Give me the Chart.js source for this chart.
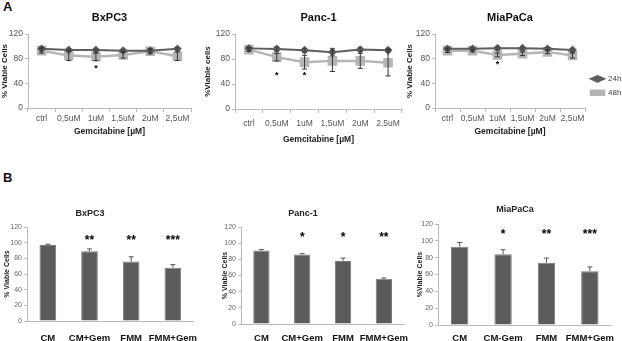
<!DOCTYPE html>
<html>
<head>
<meta charset="utf-8">
<script src="https://cdn.jsdelivr.net/npm/chart.js@4/dist/chart.umd.min.js"></script>
<style>
body { margin: 0; background: #fff; width: 622px; height: 341px; overflow: hidden; position: relative; font-family: "Liberation Sans", Arial, sans-serif; }
canvas { position: absolute; }
.tag { position: absolute; font-weight: bold; font-size: 13px; color: #111; }
</style>
</head>
<body>
<div class="tag" style="left:3px;top:-1px">A</div>
<div class="tag" style="left:3px;top:170px">B</div>
<canvas id="a1" width="200" height="140" style="left:0;top:0"></canvas>
<canvas id="a2" width="212" height="150" style="left:200px;top:0"></canvas>
<canvas id="a3" width="217" height="140" style="left:405px;top:0"></canvas>
<canvas id="b1" width="214" height="141" style="left:-17px;top:200px"></canvas>
<canvas id="b2" width="210" height="141" style="left:198px;top:200px"></canvas>
<canvas id="b3" width="198" height="145" style="left:416px;top:196px"></canvas>
<script>
// A: viability vs gemcitabine dose, 24h and 48h
const doses = ['ctrl', '0,5uM', '1uM', '1,5uM', '2uM', '2,5uM'];

const bx24 = [96, 94, 94, 93, 93, 96];
const bx24Err = [3, 2, 2, 2, 2, 2];
const bx48 = [93, 85, 83, 86, 92, 84];
const bx48Err = [4, 8, 6, 5, 4, 7];
const bxStars = ['', '', '*', '', '', ''];

const pa24 = [97, 96, 94, 91, 95, 94];
const pa24Err = [2, 3, 3, 6, 3, 3];
const pa48 = [95, 83, 75, 77, 77, 74];
const pa48Err = [3, 6, 11, 17, 12, 21];
const paStars = ['', '*', '*', '', '', ''];

const mp24 = [96, 96, 97, 97, 96, 94];
const mp24Err = [2, 2, 2, 2, 2, 2];
const mp48 = [93, 93, 86, 88, 91, 85];
const mp48Err = [3, 2, 3, 3, 3, 4];
const mpStars = ['', '', '*', '', '', ''];

// B: conditioned medium
const mediaBx = ['CM', 'CM+Gem', 'FMM', 'FMM+Gem'];
const mediaPa = ['CM', 'CM+Gem', 'FMM', 'FMM+Gem'];
const mediaMp = ['CM', 'CM-Gem', 'FMM', 'FMM+Gem'];

const bxBar = [97, 89, 76, 68];
const bxBarErr = [1, 3, 6, 4];
const bxBarStars = ['', '**', '**', '***'];
const paBar = [91, 86, 78, 56];
const paBarErr = [1, 1, 3.5, 1];
const paBarStars = ['', '*', '*', '**'];
const mpBar = [93, 84, 74, 64];
const mpBarErr = [5, 5.5, 5.5, 5];
const mpBarStars = ['', '*', '**', '***'];

// height (in % viable) where the significance stars sit
const starLevels = { a1: 64, a2: 53, a3: 70, b1: 103, b2: 107, b3: 107 };

const FONT = '"Liberation Sans", Arial, sans-serif';
Chart.defaults.font.family = FONT;
Chart.defaults.animation = false;

// error bars + stars
const extras = {
  id: 'extras',
  afterDatasetsDraw(chart, args, opts) {
    const ctx = chart.ctx, x = chart.scales.x, y = chart.scales.y;
    ctx.save();
    chart.data.datasets.forEach((ds, i) => {
      if (!ds.errors) return;
      ctx.strokeStyle = ds.errorColor || '#333';
      ctx.lineWidth = 1;
      ds.data.forEach((v, j) => {
        const e = ds.errors[j];
        if (!e) return;
        const px = x.getPixelForValue(j);
        const top = y.getPixelForValue(v + e);
        const bot = y.getPixelForValue(opts.upOnly ? v : v - e);
        ctx.beginPath();
        ctx.moveTo(px, top); ctx.lineTo(px, bot);
        ctx.moveTo(px - 2.5, top); ctx.lineTo(px + 2.5, top);
        if (!opts.upOnly) { ctx.moveTo(px - 2.5, bot); ctx.lineTo(px + 2.5, bot); }
        ctx.stroke();
      });
    });
    if (opts.stars) {
      ctx.fillStyle = '#000';
      ctx.font = 'bold ' + opts.starSize + 'px ' + FONT;
      ctx.textAlign = 'center';
      ctx.textBaseline = 'middle';
      opts.stars.forEach((s, j) => {
        if (s) ctx.fillText(s, x.getPixelForValue(j), y.getPixelForValue(opts.starAt));
      });
    }
    ctx.restore();
  }
};

function lineChart(id, title, yTitle, s24, e24, s48, e48, stars, lay) {
  return new Chart(document.getElementById(id), {
    type: 'line',
    data: {
      labels: doses,
      datasets: [
        { label: '24h', data: s24, errors: e24, errorColor: '#444',
          borderColor: '#5e5e5e', backgroundColor: '#5e5e5e', borderWidth: 2,
          pointStyle: 'rectRot', pointRadius: 3 },
        { label: '48h', data: s48, errors: e48, errorColor: '#333',
          borderColor: '#b5b5b5', backgroundColor: '#b5b5b5', borderWidth: 2.5,
          pointStyle: 'rect', pointRadius: 5 }
      ]
    },
    options: {
      responsive: false,
      devicePixelRatio: 1,
      layout: { padding: { right: lay.padRight, left: 0, top: 0, bottom: 0 } },
      plugins: {
        title: { display: true, text: title, fullSize: false, color: '#111',
          font: { size: 11, weight: 'bold' }, padding: { top: 11, bottom: 9.8 } },
        legend: lay.legend ? {
          display: true, position: 'right', maxWidth: 37,
          title: { display: true, text: ' ', font: { size: 8 }, padding: { top: 11, bottom: 11 } },
          labels: { usePointStyle: true, pointStyleWidth: 13, boxHeight: 4, color: '#444',
            font: { size: 8 }, padding: 6 }
        } : { display: false },
        tooltip: { enabled: false },
        extras: { stars: stars, starAt: starLevels[id], starSize: 9 }
      },
      scales: {
        x: {
          offset: true,
          grid: { drawOnChartArea: false, offset: true, tickLength: 4, color: '#bbb' },
          border: { color: '#bbb' },
          ticks: { color: '#555', font: { size: 8.5 }, padding: lay.tickPad, maxRotation: 0, autoSkip: false },
          title: { display: true, text: 'Gemcitabine [µM]', color: '#222',
            font: { size: 8.5, weight: 'bold' }, padding: { top: 0, bottom: lay.xTitlePad } },
          afterFit: s => { s.height = lay.xH; }
        },
        y: {
          min: 0, max: 120,
          grid: { drawOnChartArea: false, tickLength: 3, color: '#bbb' },
          border: { color: '#bbb' },
          ticks: { stepSize: 20, color: '#555', font: { size: 8.5 }, padding: 2 },
          title: { display: true, text: yTitle, color: '#222',
            font: { size: 8, weight: 'bold' }, padding: { top: lay.yTitlePad, bottom: 0 } },
          afterFit: s => { s.width = lay.yW; }
        }
      }
    },
    plugins: [extras]
  });
}

function barChart(id, title, yTitle, cats, vals, errs, stars, lay) {
  return new Chart(document.getElementById(id), {
    type: 'bar',
    data: {
      labels: cats,
      datasets: [{ data: vals, errors: errs, errorColor: '#555',
        backgroundColor: '#5b5b5b', borderColor: '#7a7a7a', borderWidth: 1,
        barPercentage: 0.4, categoryPercentage: 1 }]
    },
    options: {
      responsive: false,
      devicePixelRatio: 1,
      layout: { padding: 0 },
      plugins: {
        title: { display: true, text: title, color: '#222',
          font: { size: 9, weight: 'bold' }, padding: { top: 8, bottom: lay.titleBottom } },
        legend: { display: false },
        tooltip: { enabled: false },
        extras: { stars: stars, starAt: starLevels[id], starSize: 12, upOnly: true }
      },
      scales: {
        x: {
          // transparent tick marks only to push the labels down
          grid: { drawOnChartArea: false, tickLength: lay.labelGap, tickColor: 'rgba(0,0,0,0)', color: '#bbb' },
          border: { color: '#bbb' },
          ticks: { color: '#111', font: { size: 9.5, weight: 'bold' },
            padding: 0, maxRotation: 0, autoSkip: false },
          afterFit: s => { s.height = lay.xH; }
        },
        y: {
          min: 0, max: 120,
          grid: { drawOnChartArea: false, tickLength: 3, color: '#bbb' },
          border: { color: '#bbb' },
          ticks: { stepSize: 20, color: '#666', font: { size: 7 }, padding: 2 },
          title: { display: true, text: yTitle, color: '#222',
            font: { size: 7, weight: 'bold' }, padding: { top: lay.yTitlePad, bottom: 0 } },
          afterFit: s => { s.width = lay.yW; }
        }
      }
    },
    plugins: [extras]
  });
}

lineChart('a1', 'BxPC3', '% Viable Cells', bx24, bx24Err, bx48, bx48Err, bxStars,
  { yW: 28, xH: 32, padRight: 9, tickPad: 2, xTitlePad: 3, yTitlePad: 0 });
lineChart('a2', 'Panc-1', '%Viable cells', pa24, pa24Err, pa48, pa48Err, paStars,
  { yW: 35, xH: 41, padRight: 10, tickPad: 6, xTitlePad: 5, yTitlePad: 3 });
lineChart('a3', 'MiaPaCa', '% Viable Cells', mp24, mp24Err, mp48, mp48Err, mpStars,
  { yW: 30, xH: 32, padRight: 0, tickPad: 2, xTitlePad: 3, yTitlePad: 0, legend: true });

barChart('b1', 'BxPC3', '% Viable Cells', mediaBx, bxBar, bxBarErr, bxBarStars,
  { yW: 44, xH: 20, labelGap: 12, yTitlePad: 20, titleBottom: 8.2 });
barChart('b2', 'Panc-1', '% Viable Cells', mediaPa, paBar, paBarErr, paBarStars,
  { yW: 43, xH: 17, labelGap: 9, yTitlePad: 23, titleBottom: 8.2 });
barChart('b3', 'MiaPaCa', '%Viable Cells', mediaMp, mpBar, mpBarErr, mpBarStars,
  { yW: 22, xH: 16, labelGap: 8, yTitlePad: 0, titleBottom: 9.2 });
</script>
</body>
</html>
